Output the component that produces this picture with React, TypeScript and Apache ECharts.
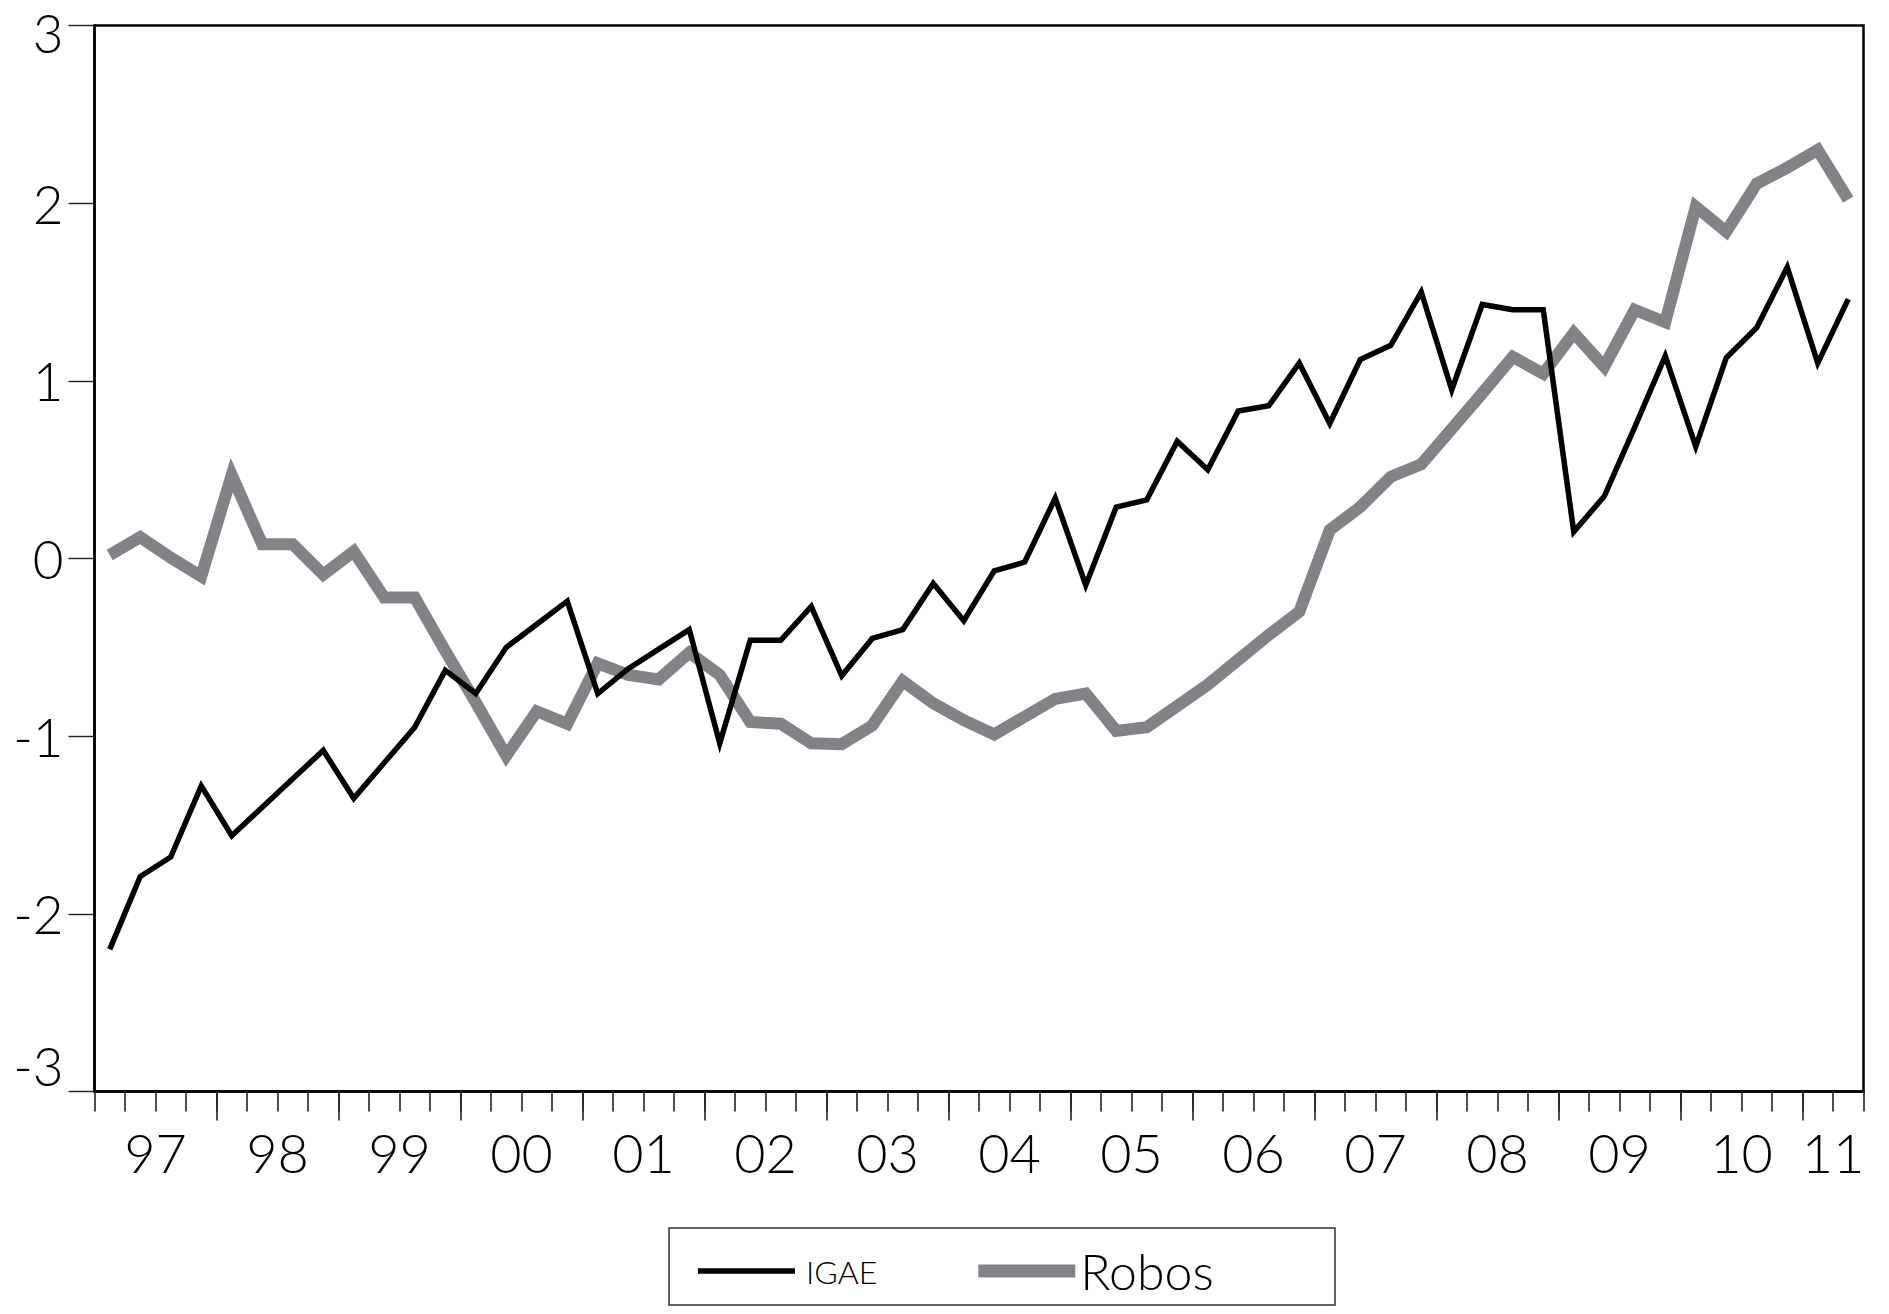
import React, { useEffect, useRef } from "react";
import * as echarts from "echarts";

// ---- Data (quarterly, 1997Q1 - 2011Q2) ----
const years = [1997, 1998, 1999, 2000, 2001, 2002, 2003, 2004, 2005, 2006, 2007, 2008, 2009, 2010, 2011];
const quarterNames = ["Q1", "Q2", "Q3", "Q4"];
const lastQuarter = "2011Q2";
const allQuarters: string[] = [];
years.forEach((y) => quarterNames.forEach((q) => allQuarters.push(`${y}${q}`)));
const quarters = allQuarters.slice(0, allQuarters.indexOf(lastQuarter) + 1);

const yearLabels = ["97", "98", "99", "00", "01", "02", "03", "04", "05", "06", "07", "08", "09", "10", "11"];

const igae = [
  -2.2, -1.79, -1.68, -1.28, -1.56, -1.4, -1.24, -1.08, -1.35, -1.15,
  -0.95, -0.63, -0.76, -0.5, -0.37, -0.24, -0.76, -0.62, -0.51, -0.4,
  -1.04, -0.46, -0.46, -0.27, -0.66, -0.45, -0.4, -0.14, -0.35, -0.07,
  -0.02, 0.34, -0.15, 0.29, 0.33, 0.66, 0.5, 0.83, 0.86, 1.1,
  0.76, 1.12, 1.2, 1.5, 0.95, 1.43, 1.4, 1.4, 0.15, 0.35,
  0.74, 1.14, 0.63, 1.13, 1.3, 1.64, 1.1, 1.46,
];

const robos = [
  0.02, 0.12, 0.005, -0.1, 0.47, 0.08, 0.08, -0.09, 0.04, -0.22,
  -0.22, -0.52, -0.81, -1.11, -0.86, -0.93, -0.59, -0.655, -0.68, -0.53,
  -0.655, -0.92, -0.93, -1.04, -1.045, -0.94, -0.69, -0.815, -0.91, -0.99,
  -0.89, -0.79, -0.76, -0.97, -0.95, -0.83, -0.71, -0.57, -0.43, -0.3,
  0.16, 0.29, 0.46, 0.53, 0.73, 0.93, 1.135, 1.04, 1.27, 1.08,
  1.4, 1.33, 1.98, 1.84, 2.11, 2.2, 2.3, 2.02,
];

const yMin = -3;
const yMax = 3;
const yStep = 1;

// ---- derived axis helpers ----
const Q = quarterNames.length;
const N = quarters.length;
const yearStarts = yearLabels.map((_, k) => k * Q).filter((v) => v > 0 && v < N);
const yearLabelPos = yearLabels.map((_, k) => (k * Q + Math.min(k * Q + Q, N)) / 2);

const FONT = "Lato, 'Open Sans', 'DejaVu Sans', sans-serif";
const GRAY = "#818386";

export default function App() {
  const ref = useRef<HTMLDivElement>(null);

  useEffect(() => {
    if (!ref.current) return;
    const chart = echarts.init(ref.current, undefined, { renderer: "svg" });

    const labelBase = { fontFamily: FONT, fontWeight: 300, fontSize: 53, color: "#000" };

    const option: any = {
      animation: false,
      backgroundColor: "#ffffff",
      textStyle: { fontFamily: FONT },
      grid: {
        left: 94.5,
        right: 25.5,
        top: 25.5,
        bottom: 222.5,
        show: true,
        borderColor: "#000",
        borderWidth: 2.5,
        backgroundColor: "transparent",
      },
      xAxis: [
        {
          type: "category",
          data: quarters,
          boundaryGap: true,
          position: "bottom",
          axisLine: { show: true, onZero: false, lineStyle: { color: "#000", width: 2.5 } },
          axisTick: { show: true, interval: 0, length: 20, lineStyle: { color: "#222", width: 1.6 } },
          axisLabel: { show: false },
          splitLine: { show: false },
        },
        {
          type: "value",
          min: 0,
          max: N,
          position: "bottom",
          axisLine: { show: false, onZero: false },
          axisTick: {
            show: true,
            customValues: yearStarts,
            length: 29,
            lineStyle: { color: "#222", width: 1.6 },
          },
          axisLabel: {
            show: true,
            customValues: yearLabelPos,
            margin: 34,
            ...labelBase,
            fontSize: 54,
            formatter: (v: number) => {
              const k = yearLabelPos.findIndex((p) => Math.abs(p - v) < 1e-6);
              return k >= 0 ? yearLabels[k] : "";
            },
          },
          splitLine: { show: false },
        },
      ],
      yAxis: {
        type: "value",
        min: yMin,
        max: yMax,
        interval: yStep,
        axisLine: { show: true, onZero: false, lineStyle: { color: "#000", width: 2.5 } },
        axisTick: { show: true, length: 26, lineStyle: { color: "#222", width: 1.4 } },
        splitLine: { show: false },
        axisLabel: {
          margin: 31,
          ...labelBase,
          formatter: (v: number) => {
            if (v === yMax) return `{hi|${v}}`;
            if (v === yMin) return `{lo|${v}}`;
            return `{n|${v}}`;
          },
          rich: {
            n: { ...labelBase },
            hi: { ...labelBase, padding: [14, 0, 0, 0] },
            lo: { ...labelBase, padding: [0, 0, 52, 0] },
          },
        },
      },
      legend: {
        left: 698,
        top: 1246,
        padding: 0,
        orient: "horizontal",
        itemGap: 101,
        itemWidth: 97,
        itemHeight: 14,
        selectedMode: false,
        itemStyle: { borderWidth: 0 },
        textStyle: { color: "#000", fontFamily: FONT, fontWeight: 300 },
        data: [
          { name: "IGAE", icon: "path://M0,0H97V5.5H0Z", textStyle: { fontSize: 32, padding: [6, 0, 0, 6] } },
          { name: "Robos", icon: "path://M0,0H98V13H0Z", textStyle: { fontSize: 50, padding: [0, 0, 12, 0] } },
        ],
      },
      graphic: [
        {
          type: "rect",
          silent: true,
          shape: { x: 669, y: 1228, width: 666, height: 77 },
          style: { fill: "none", stroke: "#333", lineWidth: 1.5 },
        },
      ],
      series: [
        {
          name: "Robos",
          type: "line",
          xAxisIndex: 0,
          yAxisIndex: 0,
          data: robos,
          symbol: "none",
          color: GRAY,
          lineStyle: { color: GRAY, width: 12, join: "miter", cap: "butt" },
          z: 2,
        },
        {
          name: "IGAE",
          type: "line",
          xAxisIndex: 0,
          yAxisIndex: 0,
          data: igae,
          symbol: "none",
          color: "#000",
          lineStyle: { color: "#000", width: 5.5, join: "miter", cap: "butt" },
          z: 3,
        },
      ],
    };

    chart.setOption(option);
    return () => chart.dispose();
  }, []);

  return (
    <div
      ref={ref}
      style={{ position: "absolute", left: 0, top: 0, width: 1889, height: 1314, background: "#fff" }}
    />
  );
}
